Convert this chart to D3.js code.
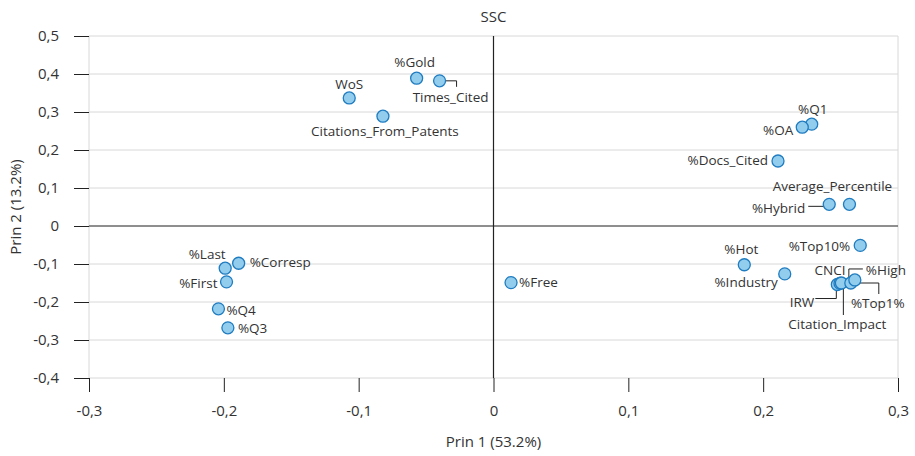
<!DOCTYPE html>
<html>
<head>
<meta charset="utf-8">
<script src="https://cdn.jsdelivr.net/npm/d3@7"></script>
<style>
  html, body { margin: 0; padding: 0; background: #fff; }
  svg { display: block; font-family: "Open Sans", "Noto Sans", sans-serif; }
</style>
</head>
<body>
<svg id="chart" width="915" height="456"></svg>
<script>
// Loadings of the variables on the first two principal components (SSC)
const variables = [
  "WoS", "%Gold", "Times_Cited", "Citations_From_Patents",
  "%Q1", "%OA", "%Docs_Cited", "%Hybrid", "Average_Percentile",
  "%Top10%", "%Hot", "%Industry",
  "IRW", "CNCI", "Citation_Impact", "%Top1%", "%High",
  "%Last", "%Corresp", "%First", "%Q4", "%Q3", "%Free"
];
const prin1 = [
  -0.107, -0.057, -0.040, -0.082,
  0.236, 0.229, 0.211, 0.249, 0.264,
  0.272, 0.186, 0.216,
  0.255, 0.257, 0.258, 0.265, 0.268,
  -0.199, -0.189, -0.198, -0.204, -0.197, 0.013
];
const prin2 = [
  0.337, 0.389, 0.382, 0.289,
  0.268, 0.260, 0.171, 0.057, 0.057,
  -0.051, -0.102, -0.126,
  -0.154, -0.151, -0.150, -0.150, -0.142,
  -0.111, -0.098, -0.147, -0.218, -0.268, -0.149
];
const xTicks = [-0.3, -0.2, -0.1, 0, 0.1, 0.2, 0.3];
const yTicks = [-0.4, -0.3, -0.2, -0.1, 0, 0.1, 0.2, 0.3, 0.4, 0.5];
const chartTitle = "SSC";
const xTitle = "Prin 1 (53.2%)";
const yTitle = "Prin 2 (13.2%)";

// Label placement around each point (pixel offsets), with optional leader lines
const labelLayout = {
  "WoS":                    { anchor: "middle", dx: 0,   dy: -14 },
  "%Gold":                  { anchor: "middle", dx: -2,  dy: -16 },
  "Times_Cited":            { anchor: "middle", dx: 11,  dy: 16, leader: [[0, 0], [17, 0], [17, 6]] },
  "Citations_From_Patents": { anchor: "middle", dx: 2,   dy: 15 },
  "%Q1":                    { anchor: "middle", dx: 1,   dy: -15 },
  "%OA":                    { anchor: "end",    dx: -9,  dy: 3 },
  "%Docs_Cited":            { anchor: "end",    dx: -10, dy: -1 },
  "%Hybrid":                { anchor: "end",    dx: -24, dy: 4, leader: [[0, 2], [-21, 2]] },
  "Average_Percentile":     { anchor: "middle", dx: -17, dy: -18 },
  "%Top10%":                { anchor: "end",    dx: -10, dy: 1 },
  "%Hot":                   { anchor: "middle", dx: -3,  dy: -15 },
  "%Industry":              { anchor: "end",    dx: -7,  dy: 8 },
  "IRW":                    { anchor: "end",    dx: -23, dy: 18, leader: [[-1, 0], [-1, 14], [-22, 14]] },
  "CNCI":                   { anchor: "middle", dx: -10, dy: -13 },
  "Citation_Impact":        { anchor: "middle", dx: -4,  dy: 41, leader: [[2, 0], [2, 32]] },
  "%Top1%":                 { anchor: "middle", dx: 27,  dy: 20, leader: [[0, 0], [28, 0], [28, 11]] },
  "%High":                  { anchor: "start",  dx: 11,  dy: -10, leader: [[-6, 0], [-6, -11], [8, -11]] },
  "%Last":                  { anchor: "middle", dx: -18, dy: -14 },
  "%Corresp":               { anchor: "start",  dx: 11,  dy: -1 },
  "%First":                 { anchor: "end",    dx: -9,  dy: 1 },
  "%Q4":                    { anchor: "start",  dx: 8,   dy: 1 },
  "%Q3":                    { anchor: "start",  dx: 10,  dy: 0 },
  "%Free":                  { anchor: "start",  dx: 8,   dy: 0 }
};

const points = variables.map((name, i) => ({ name, x: prin1[i], y: prin2[i] }));

const svg = d3.select("#chart");
const plotLeft = 89, plotRight = 898, plotTop = 36, plotBottom = 378;
const x = d3.scaleLinear().domain([-0.3, 0.3]).range([plotLeft, plotRight]);
const y = d3.scaleLinear().domain([-0.4, 0.5]).range([plotBottom, plotTop]);
const fmt = d => d === 0 ? "0" : d3.format(".1f")(d).replace(".", ",").replace("−", "-");
const textColor = "#333";

// Horizontal gridlines and frame sides
svg.append("g").selectAll("line").data(yTicks).join("line")
  .attr("x1", plotLeft).attr("x2", plotRight)
  .attr("y1", d => y(d)).attr("y2", d => y(d))
  .attr("stroke", "#d8d8d8").attr("stroke-width", 1);
svg.append("g").selectAll("line").data([-0.3, 0.3]).join("line")
  .attr("x1", d => x(d)).attr("x2", d => x(d))
  .attr("y1", plotTop).attr("y2", plotBottom)
  .attr("stroke", "#d8d8d8").attr("stroke-width", 1);

// Axes
const yAxis = svg.append("g").attr("transform", `translate(${plotLeft},0)`)
  .call(d3.axisLeft(y).tickValues(yTicks).tickFormat(fmt).tickSize(15).tickPadding(15));
const xAxis = svg.append("g").attr("transform", `translate(0,${plotBottom})`)
  .call(d3.axisBottom(x).tickValues(xTicks).tickFormat(fmt).tickSize(14).tickPadding(13));
[xAxis, yAxis].forEach(g => {
  g.select(".domain").remove();
  g.selectAll(".tick line").attr("stroke", "#222");
  g.selectAll(".tick text").attr("fill", textColor)
    .style("font-size", "15px").style("font-family", "'Open Sans', sans-serif");
});

// Reference lines through the origin
svg.append("line")
  .attr("x1", plotLeft).attr("x2", plotRight).attr("y1", y(0)).attr("y2", y(0))
  .attr("stroke", "#333").attr("stroke-width", 1.2);
svg.append("line")
  .attr("x1", x(0)).attr("x2", x(0)).attr("y1", plotTop).attr("y2", plotBottom)
  .attr("stroke", "#222").attr("stroke-width", 1.2);

// Titles
svg.append("text").attr("x", (plotLeft + plotRight) / 2).attr("y", 22)
  .attr("text-anchor", "middle").attr("fill", textColor)
  .style("font-size", "15px").text(chartTitle);
svg.append("text").attr("x", (plotLeft + plotRight) / 2).attr("y", 447)
  .attr("text-anchor", "middle").attr("fill", textColor)
  .style("font-size", "15px").text(xTitle);
svg.append("text")
  .attr("transform", `translate(21,${(plotTop + plotBottom) / 2}) rotate(-90)`)
  .attr("text-anchor", "middle").attr("fill", textColor)
  .style("font-size", "15px").text(yTitle);

// Leader lines
const leaders = svg.append("g");
points.forEach(p => {
  const L = labelLayout[p.name];
  if (!L || !L.leader) return;
  const px = x(p.x), py = y(p.y);
  leaders.append("polyline")
    .attr("points", L.leader.map(([a, b]) => `${px + a},${py + b}`).join(" "))
    .attr("fill", "none").attr("stroke", "#222").attr("stroke-width", 1);
});

// Points
svg.append("g").selectAll("circle").data(points).join("circle")
  .attr("cx", d => x(d.x)).attr("cy", d => y(d.y)).attr("r", 6)
  .attr("fill", "#93cdee").attr("stroke", "#1f7cc0").attr("stroke-width", 1.3);

// Point labels
svg.append("g").selectAll("text").data(points).join("text")
  .attr("x", d => x(d.x) + labelLayout[d.name].dx)
  .attr("y", d => y(d.y) + labelLayout[d.name].dy)
  .attr("dy", "0.35em")
  .attr("text-anchor", d => labelLayout[d.name].anchor)
  .attr("fill", textColor)
  .style("font-size", "13.5px")
  .text(d => d.name);
</script>
</body>
</html>
